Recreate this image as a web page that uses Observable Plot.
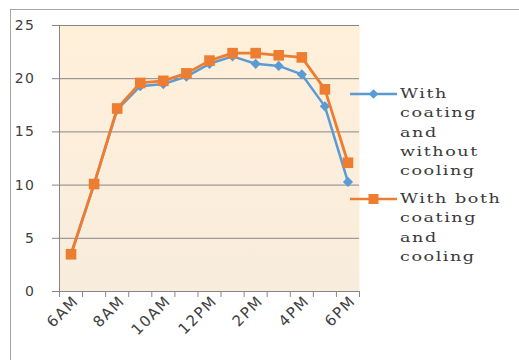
<!DOCTYPE html>
<html><head><meta charset="utf-8">
<script src="https://cdn.jsdelivr.net/npm/d3@7"></script>
<script src="https://cdn.jsdelivr.net/npm/@observablehq/plot@0.6"></script>
<style>
body{margin:0;background:#fff;}
#wrap{position:relative;width:519px;height:360px;overflow:hidden;background:#fff;}
#border{position:absolute;left:10px;top:9px;width:700px;height:700px;border:1px solid #a6a6a6;}
#chart{position:absolute;left:0;top:0;}
.leg{position:absolute;left:350px;}
.leg svg{position:absolute;left:0;}
.leg .t{position:absolute;left:50px;font-family:"DejaVu Serif",serif;font-size:13.5px;letter-spacing:1.2px;line-height:19.3px;color:#3a3a3a;white-space:nowrap;transform:scaleX(1.3);transform-origin:0 0;}
</style></head>
<body>
<div id="wrap">
<div id="border"></div>
<div id="chart"></div>
<div class="leg" id="leg1" style="top:84px"></div>
<div class="leg" id="leg2" style="top:189px"></div>
</div>
<script>
const hours = [6,7,8,9,10,11,12,13,14,15,16,17,18];
const withoutCooling = [3.5,10.1,17.1,19.3,19.5,20.2,21.4,22.1,21.4,21.2,20.4,17.4,10.3];
const withCooling = [3.5,10.1,17.2,19.6,19.8,20.5,21.7,22.4,22.4,22.2,22.0,19.0,12.1];
const labelHours = [6,8,10,12,14,16,18];
const tickLabels = ["6AM","8AM","10AM","12PM","2PM","4PM","6PM"];
const yTicks = [0,5,10,15,20,25];
const seriesNames = ["With coating and without cooling","With both coating and cooling"];
const blue = "#5b9bd5", orange = "#ed7d31";

const dataBlue = hours.map((h,i)=>({h, v: withoutCooling[i]}));
const dataOrange = hours.map((h,i)=>({h, v: withCooling[i]}));
const boundaries = hours.map(h=>h-0.5).concat([hours[hours.length-1]+0.5]);

const chart = Plot.plot({
  width: 519, height: 360,
  marginLeft: 59, marginRight: 160, marginTop: 25, marginBottom: 69,
  style: {fontFamily: "DejaVu Sans, sans-serif", fontSize: "14px", color: "#404040", background: "transparent", letterSpacing: "1.5px"},
  x: {domain: [boundaries[0], boundaries[boundaries.length-1]]},
  y: {domain: [0, 25]},
  marks: [
    Plot.frame({fill: "url(#bggrad)", stroke: "none"}),
    Plot.gridY(yTicks, {stroke: "#868686", strokeOpacity: 1, strokeWidth: 1}),
    Plot.ruleX([boundaries[0]], {stroke: "#868686", strokeWidth: 1}),
    Plot.ruleY([0], {stroke: "#868686", strokeWidth: 1}),
    Plot.axisY({ticks: yTicks, tickSize: 7, tickPadding: 17, stroke: "#868686", label: null, fill: "#404040"}),
    Plot.axisX({ticks: boundaries, tickSize: 6, tickFormat: () => "", stroke: "#868686", label: null}),
    Plot.axisX({ticks: labelHours, tickSize: 0, tickPadding: 7, tickRotate: -45, tickFormat: (d) => tickLabels[labelHours.indexOf(d)], label: null, fill: "#404040", dx: 5, fontSize: 15, style: {letterSpacing: "1.8px"}}),
    Plot.line(dataBlue, {x: "h", y: "v", stroke: blue, strokeWidth: 2.5}),
    Plot.dot(dataBlue, {x: "h", y: "v", symbol: "diamond2", r: 4.6, fill: blue, stroke: "none"}),
    Plot.line(dataOrange, {x: "h", y: "v", stroke: orange, strokeWidth: 2.8}),
    Plot.dot(dataOrange, {x: "h", y: "v", symbol: "square", r: 6, fill: orange, stroke: "none"})
  ]
});
const ns = "http://www.w3.org/2000/svg";
const defs = document.createElementNS(ns, "defs");
defs.innerHTML = '<linearGradient id="bggrad" x1="0" y1="0" x2="0" y2="1"><stop offset="0" stop-color="#fff0da"/><stop offset="1" stop-color="#f8ecdc"/></linearGradient>';
chart.insertBefore(defs, chart.firstChild);
document.getElementById("chart").appendChild(chart);

function legend(id, color, symbol, text) {
  const el = document.getElementById(id);
  const s = d3.create("svg").attr("width", 50).attr("height", 20);
  s.append("line").attr("x1", 0).attr("x2", 47).attr("y1", 10).attr("y2", 10).attr("stroke", color).attr("stroke-width", 2.5);
  const sym = symbol === "square" ? d3.symbolSquare : d3.symbolDiamond2;
  const size = symbol === "square" ? 100 : 60;
  s.append("path").attr("d", d3.symbol(sym, size)()).attr("transform", "translate(23.5,10)").attr("fill", color);
  el.appendChild(s.node());
  const t = document.createElement("div");
  t.className = "t";
  t.style.top = "0px";
  t.innerHTML = text;
  el.appendChild(t);
}
legend("leg1", blue, "diamond", "With<br>coating<br>and<br>without<br>cooling");
legend("leg2", orange, "square", "With both<br>coating<br>and<br>cooling");
</script>
</body></html>
